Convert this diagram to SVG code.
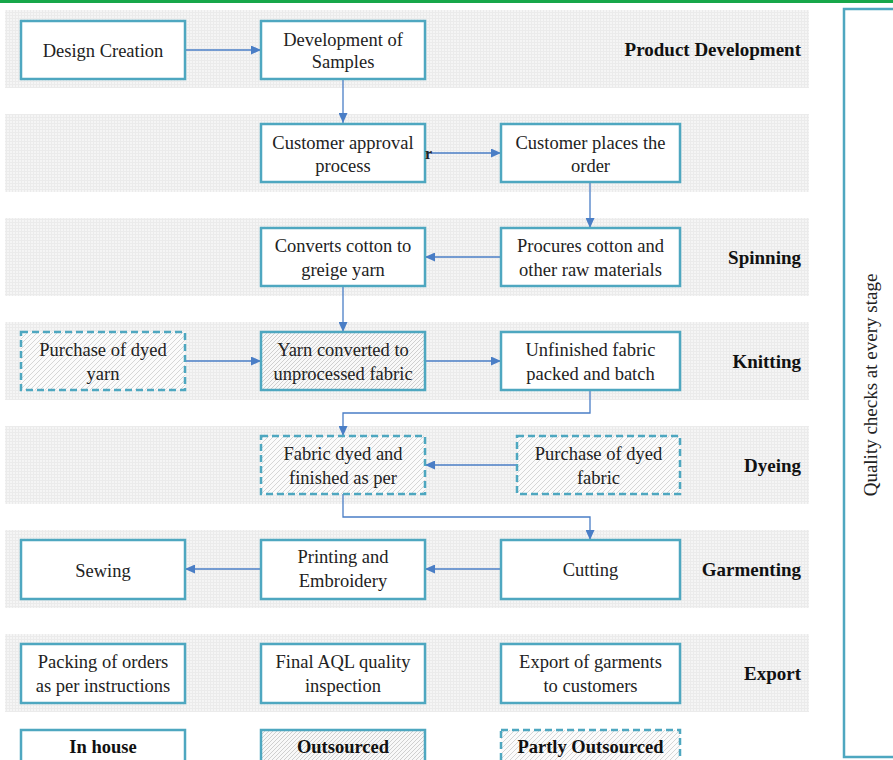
<svg xmlns="http://www.w3.org/2000/svg" width="893" height="760" viewBox="0 0 893 760">
<style>
.band{fill:url(#grid)}
.box{fill:#ffffff;stroke:#4ea7c0;stroke-width:2.5}
.hatch{fill:url(#hatch);stroke:#4ea7c0;stroke-width:2.5}
.dash{fill:url(#hatchd);stroke:#4ea7c0;stroke-width:2.5;stroke-dasharray:7 4}
.t{font-family:"Liberation Serif","Times New Roman",serif;font-size:18.5px;fill:#222;text-anchor:middle}
.stage{font-family:"Liberation Serif","Times New Roman",serif;font-size:19px;font-weight:bold;fill:#111;text-anchor:end}
.leg{font-family:"Liberation Serif","Times New Roman",serif;font-size:18.5px;font-weight:bold;fill:#111;text-anchor:middle}
.c{fill:none;stroke:#4a7ec6;stroke-width:1.3;marker-end:url(#arr)}
</style>
<defs>
<pattern id="grid" width="3" height="3" patternUnits="userSpaceOnUse">
<rect width="3" height="3" fill="#f5f5f5"/>
<path d="M0,0.5H3M0.5,0V3" stroke="#ebebeb" stroke-width="1"/>
</pattern>
<pattern id="hatch" width="4" height="4" patternUnits="userSpaceOnUse">
<rect width="4" height="4" fill="#f8f8f8"/>
<path d="M-1,1l2,-2M0,4l4,-4M3,5l2,-2" stroke="#c4c4c4" stroke-width="0.8"/>
</pattern>
<pattern id="hatchd" width="5" height="5" patternUnits="userSpaceOnUse">
<rect width="5" height="5" fill="#fbfbfb"/>
<path d="M-1,1l2,-2M0,5l5,-5M4,6l2,-2" stroke="#cdcdcd" stroke-width="0.8"/>
</pattern>
<marker id="arr" markerWidth="10" markerHeight="9" refX="10" refY="4.5" orient="auto" markerUnits="userSpaceOnUse">
<path d="M0,0L10,4.5L0,9z" fill="#4a7ec6"/>
</marker>
</defs>

<rect x="0" y="0" width="893" height="3" fill="#17a74a"/>

<g id="bands">
<rect class="band" x="5" y="10" width="804" height="78"/>
<rect class="band" x="5" y="114" width="804" height="78"/>
<rect class="band" x="5" y="218" width="804" height="78"/>
<rect class="band" x="5" y="322" width="804" height="78"/>
<rect class="band" x="5" y="426" width="804" height="78"/>
<rect class="band" x="5" y="530" width="804" height="78"/>
<rect class="band" x="5" y="634" width="804" height="78"/>
</g>

<g id="stages">
<text class="stage" x="801" y="56">Product Development</text>
<text class="stage" x="801" y="264">Spinning</text>
<text class="stage" x="801" y="368">Knitting</text>
<text class="stage" x="801" y="472">Dyeing</text>
<text class="stage" x="801" y="576">Garmenting</text>
<text class="stage" x="801" y="680">Export</text>
</g>

<g id="connectors">
<path class="c" d="M185,50H261"/>
<path class="c" d="M343,80V123"/>
<path class="c" d="M425,153H501"/>
<path class="c" d="M590,182V228"/>
<path class="c" d="M501,257H425"/>
<path class="c" d="M343,287V332"/>
<path class="c" d="M185,361H261"/>
<path class="c" d="M425,361H501"/>
<path class="c" d="M590,390V413H343V436"/>
<path class="c" d="M517,465H425"/>
<path class="c" d="M343,494V517H590V540"/>
<path class="c" d="M501,569H425"/>
<path class="c" d="M261,569H185"/>
</g>

<g id="design-creation">
<rect class="box" x="21" y="21" width="164" height="58"/>
<text class="t" x="103" y="57">Design Creation</text>
</g>
<g id="development-of-samples">
<rect class="box" x="261" y="21" width="164" height="58"/>
<text class="t" x="343" y="46">Development of</text>
<text class="t" x="343" y="68">Samples</text>
</g>
<g id="customer-approval">
<rect class="box" x="261" y="124" width="164" height="58"/>
<text class="t" x="343" y="149">Customer approval</text>
<text class="t" x="343" y="172">process</text>
<text x="425" y="159" font-family="Liberation Serif,serif" font-size="16" font-weight="bold" fill="#222">r</text>
</g>
<g id="customer-places-order">
<rect class="box" x="501" y="124" width="179" height="58"/>
<text class="t" x="590.5" y="149">Customer places the</text>
<text class="t" x="590.5" y="172">order</text>
</g>
<g id="converts-cotton">
<rect class="box" x="261" y="228" width="164" height="58"/>
<text class="t" x="343" y="252">Converts cotton to</text>
<text class="t" x="343" y="276">greige yarn</text>
</g>
<g id="procures-cotton">
<rect class="box" x="501" y="228" width="179" height="58"/>
<text class="t" x="590.5" y="252">Procures cotton and</text>
<text class="t" x="590.5" y="276">other raw materials</text>
</g>
<g id="purchase-dyed-yarn">
<rect class="dash" x="21" y="332" width="164" height="58"/>
<text class="t" x="103" y="356">Purchase of dyed</text>
<text class="t" x="103" y="380">yarn</text>
</g>
<g id="yarn-converted">
<rect class="hatch" x="261" y="332" width="164" height="58"/>
<text class="t" x="343" y="356">Yarn converted to</text>
<text class="t" x="343" y="380">unprocessed fabric</text>
</g>
<g id="unfinished-fabric">
<rect class="box" x="501" y="332" width="179" height="58"/>
<text class="t" x="590.5" y="356">Unfinished fabric</text>
<text class="t" x="590.5" y="380">packed and batch</text>
</g>
<g id="fabric-dyed">
<rect class="dash" x="261" y="436" width="164" height="58"/>
<text class="t" x="343" y="460">Fabric dyed and</text>
<text class="t" x="343" y="484">finished as per</text>
</g>
<g id="purchase-dyed-fabric">
<rect class="dash" x="517" y="436" width="163" height="58"/>
<text class="t" x="598.5" y="460">Purchase of dyed</text>
<text class="t" x="598.5" y="484">fabric</text>
</g>
<g id="sewing">
<rect class="box" x="21" y="540" width="164" height="59"/>
<text class="t" x="103" y="577">Sewing</text>
</g>
<g id="printing-embroidery">
<rect class="box" x="261" y="540" width="164" height="59"/>
<text class="t" x="343" y="563">Printing and</text>
<text class="t" x="343" y="587">Embroidery</text>
</g>
<g id="cutting">
<rect class="box" x="501" y="540" width="179" height="59"/>
<text class="t" x="590.5" y="576">Cutting</text>
</g>
<g id="packing">
<rect class="box" x="21" y="644" width="164" height="59"/>
<text class="t" x="103" y="668">Packing of orders</text>
<text class="t" x="103" y="692">as per instructions</text>
</g>
<g id="final-aql">
<rect class="box" x="261" y="644" width="164" height="59"/>
<text class="t" x="343" y="668">Final AQL quality</text>
<text class="t" x="343" y="692">inspection</text>
</g>
<g id="export-garments">
<rect class="box" x="501" y="644" width="179" height="59"/>
<text class="t" x="590.5" y="668">Export of garments</text>
<text class="t" x="590.5" y="692">to customers</text>
</g>

<g id="legend">
<g id="legend-inhouse">
<rect class="box" x="21" y="730" width="164" height="34"/>
<text class="leg" x="103" y="753">In house</text>
</g>
<g id="legend-outsourced">
<rect class="hatch" x="261" y="730" width="164" height="34"/>
<text class="leg" x="343" y="753">Outsourced</text>
</g>
<g id="legend-partly">
<rect class="dash" x="501" y="730" width="179" height="34"/>
<text class="leg" x="590.5" y="753">Partly Outsourced</text>
</g>
</g>

<g id="quality-checks">
<rect x="844" y="9" width="60" height="748" fill="#ffffff" stroke="#4ea7c0" stroke-width="2.5"/>
<text class="t" transform="translate(877,385) rotate(-90)" style="font-size:19px">Quality checks at every stage</text>
</g>
</svg>
